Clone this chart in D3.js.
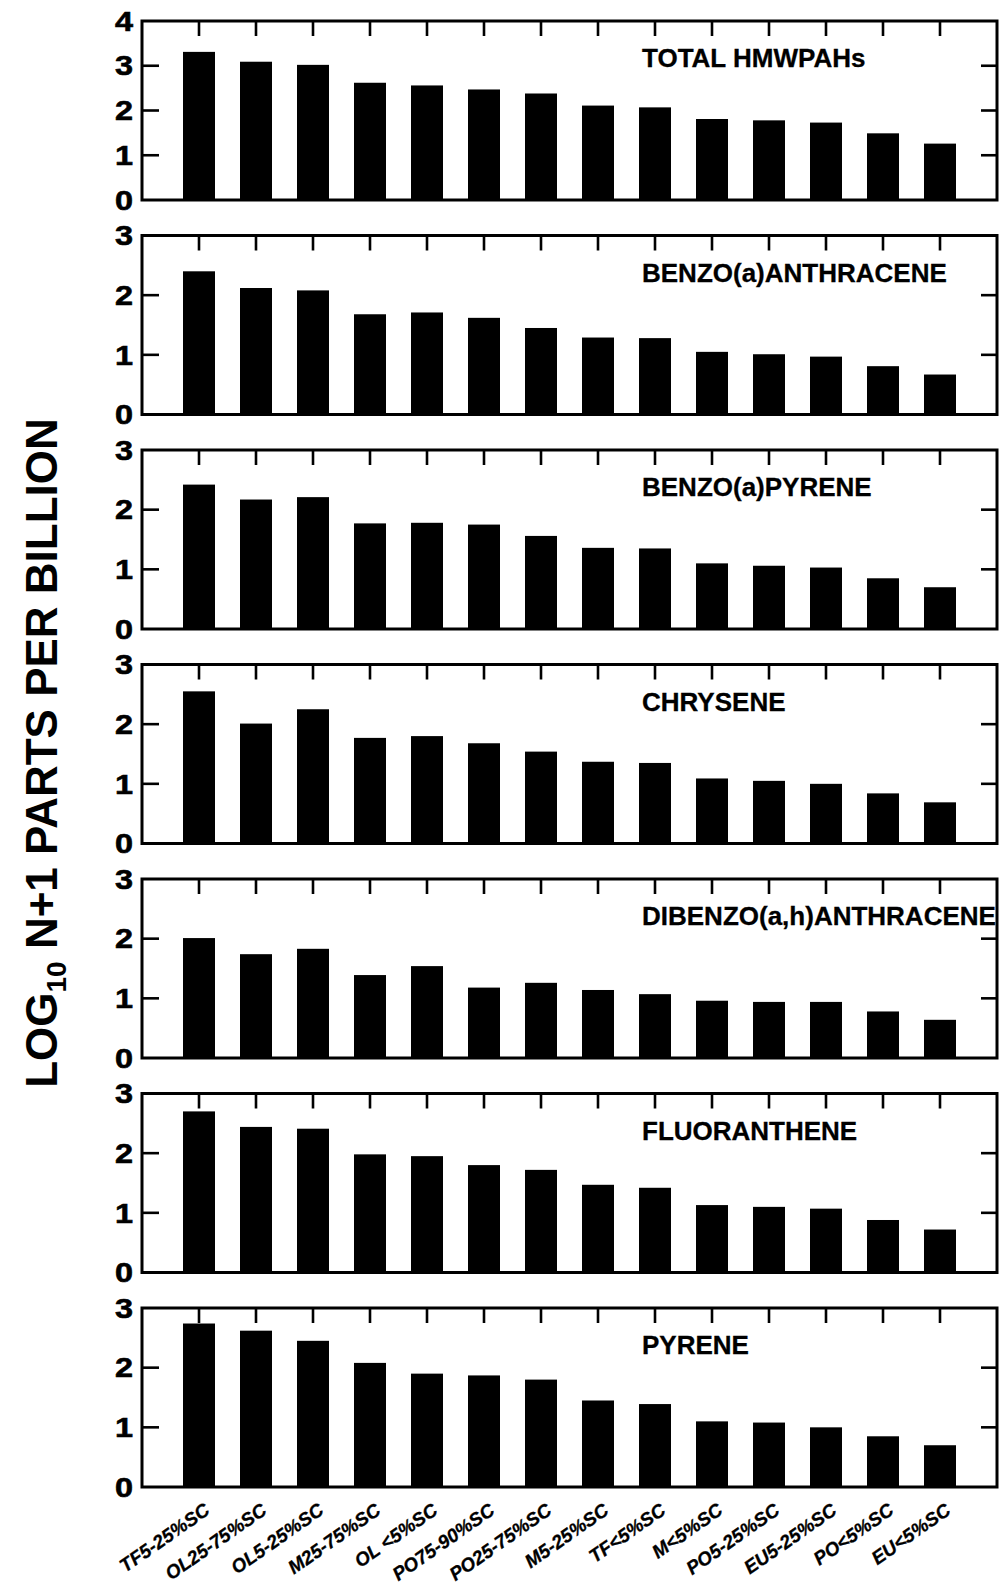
<!DOCTYPE html>
<html>
<head>
<meta charset="utf-8">
<script src="https://cdn.jsdelivr.net/npm/d3@7"></script>
<style>
  body { margin: 0; background: #fff; }
  text { font-family: "Liberation Sans", Arial, Helvetica, sans-serif; font-weight: bold; fill: #000; }
</style>
</head>
<body>
<svg id="chart" width="1004" height="1585"></svg>
<script>
// Sampling groups (habitat / sand-content class)
const sites = ["TF5-25%SC", "OL25-75%SC", "OL5-25%SC", "M25-75%SC", "OL <5%SC", "PO75-90%SC",
  "PO25-75%SC", "M5-25%SC", "TF<5%SC", "M<5%SC", "PO5-25%SC", "EU5-25%SC", "PO<5%SC", "EU<5%SC"];

// log10(N+1) concentration, ppb
const totalHMWPAHs      = [3.31, 3.09, 3.02, 2.62, 2.56, 2.47, 2.38, 2.11, 2.07, 1.81, 1.78, 1.73, 1.49, 1.26];
const benzoAnthracene   = [2.40, 2.12, 2.08, 1.68, 1.71, 1.62, 1.45, 1.29, 1.28, 1.05, 1.01, 0.97, 0.81, 0.67];
const benzoPyrene       = [2.42, 2.17, 2.21, 1.77, 1.78, 1.75, 1.56, 1.36, 1.35, 1.10, 1.06, 1.03, 0.85, 0.70];
const chrysene          = [2.55, 2.01, 2.25, 1.77, 1.80, 1.68, 1.54, 1.37, 1.35, 1.09, 1.05, 1.00, 0.84, 0.69];
const dibenzoAnthracene = [2.01, 1.74, 1.83, 1.39, 1.54, 1.18, 1.26, 1.14, 1.07, 0.96, 0.94, 0.94, 0.78, 0.64];
const fluoranthene      = [2.70, 2.44, 2.41, 1.98, 1.95, 1.80, 1.72, 1.47, 1.42, 1.13, 1.10, 1.07, 0.88, 0.72];
const pyrene            = [2.74, 2.62, 2.45, 2.08, 1.90, 1.87, 1.80, 1.45, 1.39, 1.10, 1.08, 1.00, 0.85, 0.70];

const panelTitles = ["TOTAL HMWPAHs", "BENZO(a)ANTHRACENE", "BENZO(a)PYRENE", "CHRYSENE",
  "DIBENZO(a,h)ANTHRACENE", "FLUORANTHENE", "PYRENE"];
const panelSeries = [totalHMWPAHs, benzoAnthracene, benzoPyrene, chrysene, dibenzoAnthracene, fluoranthene, pyrene];
const panelMax = [4, 3, 3, 3, 3, 3, 3];

const svg = d3.select("#chart");
const left = 142, right = 997;
const firstTop = 21, panelH = 179, panelStep = 214.5;

const x = d3.scalePoint().domain(sites).range([left, right]).padding(1);
const barW = 32;

panelSeries.forEach((vals, k) => {
  const top = firstTop + k * panelStep;
  const bottom = top + panelH;
  const y = d3.scaleLinear().domain([0, panelMax[k]]).range([bottom, top]);
  const g = svg.append("g");
  const ticks = d3.range(0, panelMax[k] + 1);

  // bars
  g.selectAll("rect.bar").data(vals).join("rect")
    .attr("class", "bar")
    .attr("x", (d, i) => x(sites[i]) - barW / 2)
    .attr("width", barW)
    .attr("y", d => y(d))
    .attr("height", d => y(0) - y(d))
    .attr("fill", "#000");

  // top ticks (inward) at each group
  g.selectAll("line.xt").data(sites).join("line")
    .attr("x1", d => x(d)).attr("x2", d => x(d))
    .attr("y1", top).attr("y2", top + 15)
    .attr("stroke", "#000").attr("stroke-width", 2.6);

  // left and right inward ticks
  const inner = ticks.filter(t => t > 0 && t < panelMax[k]);
  g.selectAll("line.yl").data(inner).join("line")
    .attr("x1", left).attr("x2", left + 17)
    .attr("y1", d => y(d)).attr("y2", d => y(d))
    .attr("stroke", "#000").attr("stroke-width", 2.6);
  g.selectAll("line.yr").data(inner).join("line")
    .attr("x1", right - 16).attr("x2", right)
    .attr("y1", d => y(d)).attr("y2", d => y(d))
    .attr("stroke", "#000").attr("stroke-width", 2.6);

  // tick labels (wide, heavy digits)
  g.selectAll("text.yl").data(ticks).join("text")
    .attr("transform", d => `translate(${left - 9},${y(d)}) scale(1.2,1)`)
    .attr("dy", "0.36em")
    .attr("text-anchor", "end")
    .style("font-size", "27px")
    .style("stroke", "#000").style("stroke-width", 0.6)
    .text(d => d);

  // frame
  g.append("rect")
    .attr("x", left).attr("y", top)
    .attr("width", right - left).attr("height", panelH)
    .attr("fill", "none").attr("stroke", "#000").attr("stroke-width", 3);

  // panel title
  g.append("text")
    .attr("x", 642).attr("y", top + 46)
    .style("font-size", "26px")
    .style("stroke", "#000").style("stroke-width", 0.3)
    .text(panelTitles[k]);
});

// category labels under the last panel
const lastBottom = firstTop + 6 * panelStep + panelH;
svg.append("g").selectAll("text").data(sites).join("text")
  .attr("text-anchor", "end")
  .attr("transform", d => `translate(${x(d) + 12},${lastBottom + 26}) rotate(-35)`)
  .style("font-size", "19px")
  .style("font-style", "italic")
  .style("stroke", "#000").style("stroke-width", 0.3)
  .text(d => d);

// y-axis title
const yt = svg.append("text")
  .attr("text-anchor", "middle")
  .attr("transform", "translate(57,753) rotate(-90)")
  .style("font-size", "44px");
yt.append("tspan").text("LOG");
yt.append("tspan").attr("dy", 9).style("font-size", "28px").text("10");
yt.append("tspan").attr("dy", -9).text(" N+1 PARTS PER BILLION");
</script>
</body>
</html>
